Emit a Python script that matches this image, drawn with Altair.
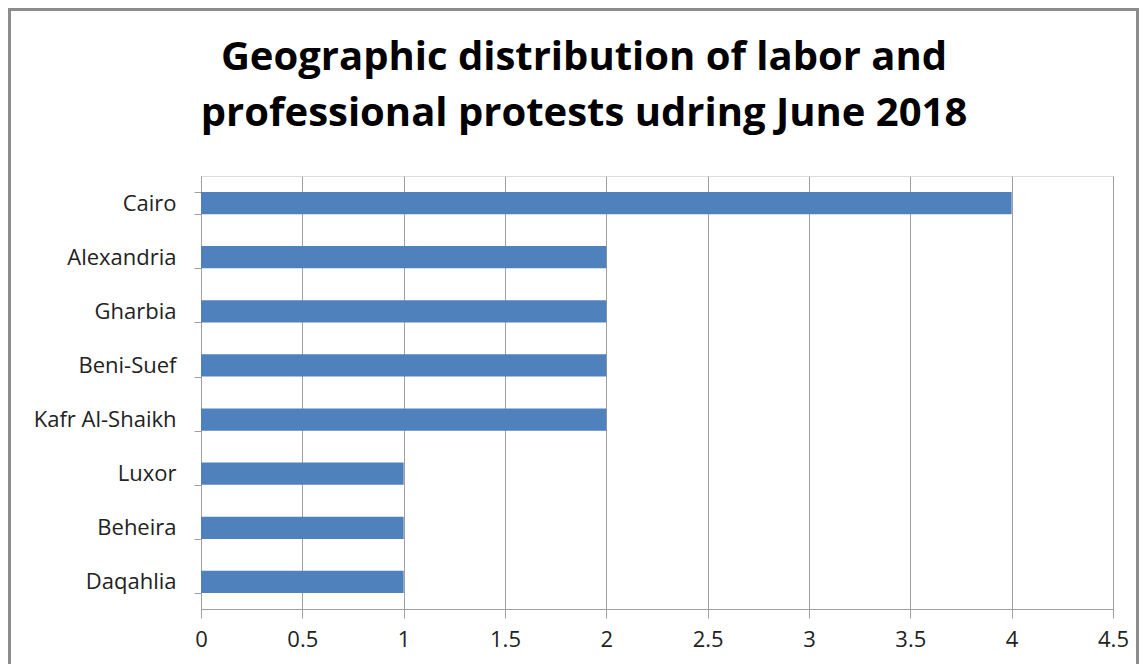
import altair as alt
import pandas as pd

regions = ["Cairo", "Alexandria", "Gharbia", "Beni-Suef", "Kafr Al-Shaikh", "Luxor", "Beheira", "Daqahlia"]
protests = [4, 2, 2, 2, 2, 1, 1, 1]
x_ticks = [0, 0.5, 1, 1.5, 2, 2.5, 3, 3.5, 4, 4.5]
title_lines = ["Geographic distribution of labor and", "professional protests udring June 2018"]

df = pd.DataFrame({"region": regions, "protests": protests})

LEFT, TOP, W, H = 193, 168, 912, 433
FONT = "Open Sans"

bars = alt.Chart(df).mark_bar(color="#4f81bd").encode(
    x=alt.X("protests:Q",
            scale=alt.Scale(domain=[0, 4.5], nice=False, zero=True),
            axis=alt.Axis(values=x_ticks, format="~g", title=None, grid=True, gridColor="#a0a0a0",
                          gridWidth=1, domainColor="#a0a0a0", tickColor="#a0a0a0",
                          tickSize=9, labelPadding=11, labelFontSize=22, labelFont=FONT,
                          labelColor="#222222", labelFlush=False)),
    y=alt.Y("region:N", sort=regions,
            scale=alt.Scale(paddingInner=0.59, paddingOuter=0.295),
            axis=alt.Axis(title=None, grid=False, tickBand="extent", domainColor="#a0a0a0",
                          tickColor="#a0a0a0", tickSize=7, labelPadding=18, labelFontSize=22,
                          labelFont=FONT, labelColor="#222222")),
)

frame = alt.Chart(df).mark_rect(fill=None, stroke="#8c8c8c", strokeWidth=3).encode(
    x=alt.value(-LEFT + 1), x2=alt.value(1131 - LEFT - 1),
    y=alt.value(-TOP + 1), y2=alt.value(656 - TOP + 10),
)

chart = alt.layer(frame, bars).properties(
    width=W, height=H,
    autosize=alt.AutoSizeParams(type="none"),
    padding={"left": LEFT, "top": TOP, "right": 1131 - LEFT - W, "bottom": 656 - TOP - H},
    title=alt.TitleParams(text=title_lines, fontSize=40, font=FONT, fontWeight="bold",
                          color="#000000", anchor="middle", frame="group", dx=-73, offset=-126,
                          lineHeight=56),
).configure_view(stroke=None).configure(background="white")

chart.save("out.html", embed_options={"renderer": "svg", "actions": False})
